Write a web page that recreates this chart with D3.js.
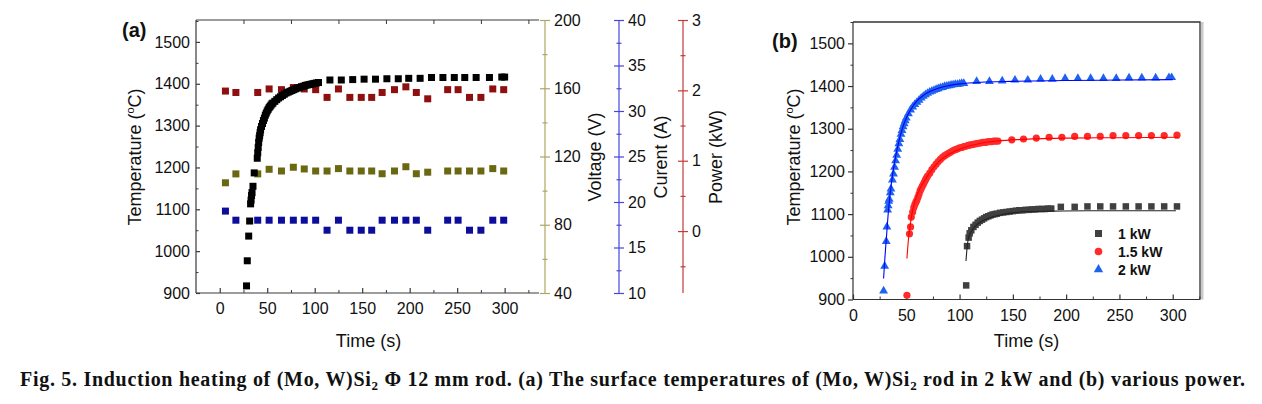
<!DOCTYPE html>
<html><head><meta charset="utf-8">
<script src="https://cdn.jsdelivr.net/npm/d3@7"></script>
<style>
body{margin:0;background:#fff;}
svg{display:block;}
text{font-family:"Liberation Sans",Arial,sans-serif;fill:#111;}
.cap{font-family:"Liberation Serif","Times New Roman",serif;font-weight:bold;}
</style></head>
<body>
<svg id="chart" width="1262" height="404"></svg>
<script>
// ---------- DATA: panel (a) ----------
const tempA = [[28.2,917],[29,977],[30.5,1036],[31.5,1072],[32.5,1113],[33,1122],[33.5,1133],[34,1140],[35,1155],[36.3,1187],
 [39.5,1222],[40,1235],[40.5,1248],[41,1260],[41.5,1270],[42,1276],[42.5,1283],[43,1290],[44,1298],[45,1305],[46,1312],[47,1318],
 [48,1325],[49,1330],[50,1335],[51,1339],[52,1343],[53,1346],[54,1349],[55,1352],[56,1354],[58,1358],[60,1362],[62,1366],[64,1369],
 [66,1372],[68,1375],[70,1378],[72,1380],[74,1382],[76,1384],[78,1386],[80,1388],[82,1390],[84,1391],[86,1393],[88,1394],[90,1396],
 [92,1397],[94,1398],[96,1399],[98,1400],[100,1401],[102,1402],[104,1403],
 [116,1409],[128,1409],[140,1410],[152,1411],[164,1411],[176,1412],[188,1412],[199,1413],[211,1413],[223,1415],[235,1415],
 [247,1415],[258,1415],[270,1415],[284,1415],[297,1416],[300,1416]];
const sampleTimesA = [6,17,40,52,65,77.5,89,101,113,125,137,149,160,171,184,196,207,219,240,251,263,275,287.5,299];
const powerA   = [1.99,1.97,1.97,2.02,2.01,2.04,2.02,2.01,1.90,2.02,1.90,1.90,1.90,1.97,2.01,2.05,1.97,1.88,2.01,2.01,1.90,1.90,2.02,2.01];
const voltageA = [104.6,109.8,109.8,112.5,111.5,113.7,112.7,111.5,111.5,112.9,111.5,111.5,111.5,109.9,111.5,114,109.9,110.8,111.5,111.5,111.5,111.5,112.9,111.5];
const currentA = [19,18,18,18,18,18,18,18,16.9,18,16.9,16.9,16.9,18,18,18,18,16.9,18,18,16.9,16.9,18,18];
const xTicksA = [0,50,100,150,200,250,300];
const tempTicks = [900,1000,1100,1200,1300,1400,1500];
const voltTicks = [40,80,120,160,200];
const currTicks = [10,15,20,25,30,35,40];
const powTicks = [0,1,2,3];

// ---------- DATA: panel (b) ----------
const pts1kW = [[106.2,933],[107,1025],[108.5,1045],[109.5,1055],[111,1062],[113,1070],[115,1075],[117,1080],[119,1084],[121,1087],
 [123,1090],[125,1093],[127,1095],[129,1097],[131,1099],[133,1100],[135,1101],[138,1103],[141,1104],[144,1105],[147,1106],[150,1107],
 [153,1108],[156,1109],[159,1109],[162,1110],[165,1110],[168,1111],[171,1111],[174,1112],[177,1112],[180,1112],[183,1113],[186,1113],
 [195,1117],[208,1117],[220,1118],[232,1118],[244,1118],[256,1118],[268,1118],[280,1118],[292,1118],[304,1118]];
const fit1kW = [[106,990],[107,1020],[108,1040],[110,1055],[113,1067],[117,1077],[122,1085],[130,1093],[140,1099],[150,1103],[165,1106],[185,1107],[220,1108],[303,1108]];
const pts15kW = [[50.6,910],[53,1054],[54,1070],[54.7,1093],[56,1105],[57,1115],[58,1122],[59,1128],[60,1133],[61,1140],[62,1147],[63,1155],
 [64,1160],[65,1165],[66,1170],[67,1175],[68,1180],[69,1185],[70,1189],[72,1196],[74,1204],[76,1211],[78,1217],[80,1223],[82,1228],
 [84,1233],[86,1237],[88,1240],[90,1243],[92,1246],[94,1249],[96,1251],[98,1253],[100,1255],[102,1256],[104,1258],[106,1259],[108,1261],
 [110,1262],[112,1263],[114,1264],[116,1265],[118,1266],[120,1267],[122,1268],[124,1268],[126,1269],[128,1270],[130,1270],[132,1271],
 [134,1271],[136,1271],
 [149,1274],[160,1276],[172,1278],[184,1280],[196,1280],[208,1282],[220,1282],[232,1282],[244,1284],[256,1284],[268,1284],[280,1284],[292,1284],[304,1285]];
const fit15kW = [[50.6,996],[52,1040],[54,1080],[56,1110],[58,1130],[61,1150],[65,1170],[70,1190],[75,1207],[80,1222],[90,1240],[100,1252],[110,1260],[120,1266],[135,1271],[160,1275],[200,1278],[250,1279],[305,1280]];
const pts2kW = [[28.7,920],[29.7,978],[31.2,1036],[31.8,1070],[32.5,1110],[33,1120],[33.5,1130],[34,1135],[35,1150],[35.6,1159],[37,1180],
 [38,1194],[39,1210],[40,1225],[41,1238],[42,1252],[43,1265],[44,1275],[45,1287],[46,1296],[47,1305],[48,1312],[49,1319],[50,1325],
 [52,1335],[54,1344],[56,1351],[58,1357],[60,1362],[62,1367],[64,1372],[66,1376],[68,1380],[70,1383],[72,1386],[74,1388],[76,1390],
 [78,1392],[80,1394],[82,1396],[84,1397],[86,1399],[88,1400],[90,1401],[92,1402],[94,1403],[96,1404],[98,1404],[100,1405],[102,1406],[104,1406],
 [116,1411],[128,1411],[140,1412],[152,1414],[164,1414],[176,1416],[187,1416],[199,1418],[211,1418],[223,1418],[235,1418],[247,1418],
 [259,1419],[271,1419],[284,1419],[296.5,1420],[299,1420]];
const fit2kW = [[28.7,949],[30,1000],[31.5,1050],[33,1100],[35,1150],[37,1190],[40,1235],[43,1270],[46,1298],[50,1325],[55,1348],[60,1365],[66,1378],[72,1387],[80,1395],[90,1401],[100,1405],[120,1409],[150,1411],[200,1413],[250,1414],[300,1415]];
const xTicksB = [0,50,100,150,200,250,300];
const legendLabels = ["1 kW","1.5 kW","2 kW"];

// ---------- DRAW ----------
const svg = d3.select("#chart");
const FS = 16;
const fmt = d3.format("~g");

// ===== Panel (a) =====
const aL=196, aR=545, aT=20, aB=293;
const xA = d3.scaleLinear([-25,342.5],[aL,aR]);
const yA = d3.scaleLinear([900,1550],[aB,aT+1]);
const yV = d3.scaleLinear([40,200],[aB,aT]);
const yI = d3.scaleLinear([10,40],[aB,aT]);
const yP = d3.scaleLinear([-0.88,3],[aB,aT]);
const frameA = "#3a3a3a";

function styleAxis(g,color,fs){
  g.select(".domain").attr("stroke",color).attr("stroke-width",1.2);
  g.selectAll(".tick line").attr("stroke",color).attr("stroke-width",1.2);
  g.selectAll(".tick text").attr("fill","#111").style("font-size",(fs||FS)+"px").style("font-family",'"Liberation Sans",Arial,sans-serif');
}

// top frame line
svg.append("line").attr("x1",aL).attr("x2",aR-6).attr("y1",aT).attr("y2",aT).attr("stroke",frameA).attr("stroke-width",1.2);
// top ticks (inward)
const topA = svg.append("g").attr("transform",`translate(0,${aT})`)
  .call(d3.axisTop(xA).tickValues([25,75,125,175,225,275,325]).tickSize(-4).tickFormat(""));
topA.select(".domain").remove(); topA.selectAll(".tick line").attr("stroke",frameA);

// bottom axis
const botA = svg.append("g").attr("transform",`translate(0,${aB})`)
  .call(d3.axisBottom(xA).tickValues(xTicksA).tickFormat(fmt).tickSize(-5).tickPadding(10));
botA.select(".domain").attr("d",`M${aL},0H${aR-6}`);
styleAxis(botA,frameA);
const botAm = svg.append("g").attr("transform",`translate(0,${aB})`)
  .call(d3.axisBottom(xA).tickValues([25,75,125,175,225,275,325]).tickSize(-3).tickFormat(""));
botAm.select(".domain").remove(); botAm.selectAll(".tick line").attr("stroke",frameA);

// left axis
const leftA = svg.append("g").attr("transform",`translate(${aL},0)`)
  .call(d3.axisLeft(yA).tickValues(tempTicks).tickFormat(fmt).tickSize(-4).tickPadding(6));
leftA.select(".domain").attr("d",`M0,${aT}V${aB}`);
styleAxis(leftA,frameA);
const leftAm = svg.append("g").attr("transform",`translate(${aL},0)`)
  .call(d3.axisLeft(yA).tickValues([950,1050,1150,1250,1350,1450,1550]).tickSize(-2.5).tickFormat(""));
leftAm.select(".domain").remove(); leftAm.selectAll(".tick line").attr("stroke",frameA);

// right axes (cross ticks)
function crossAxis(x,scale,ticks,minor,color){
  const g = svg.append("g").attr("transform",`translate(${x},0)`)
    .call(d3.axisRight(scale).tickValues(ticks).tickFormat(fmt).tickSize(5).tickPadding(4));
  g.select(".domain").attr("d",`M0,${aT}V${aB}`);
  g.selectAll(".tick line").attr("x1",-5);
  styleAxis(g,color);
  const gm = svg.append("g").attr("transform",`translate(${x},0)`)
    .call(d3.axisRight(scale).tickValues(minor).tickSize(2.5).tickFormat(""));
  gm.select(".domain").remove();
  gm.selectAll(".tick line").attr("x1",-2.5).attr("stroke",color).attr("stroke-width",1.2);
  return g;
}
crossAxis(545,yV,voltTicks,[60,100,140,180],"#b0a664");
crossAxis(619,yI,currTicks,[12.5,17.5,22.5,27.5,32.5,37.5],"#4646dc");
crossAxis(683,yP,powTicks,[-0.5,0.5,1.5,2.5],"#c23a3a");

// axis titles (a)
function rotTitle(x,y,parts){
  const t = svg.append("text").attr("transform",`translate(${x},${y}) rotate(-90)`)
    .attr("text-anchor","middle").style("font-size","18px");
  parts.forEach(p=>{ const s=t.append("tspan").text(p.t); if(p.sup) s.attr("dy",-7).style("font-size","11px"); if(p.down) s.attr("dy",7); });
  return t;
}
rotTitle(141,157,[{t:"Temperature ("},{t:"o",sup:true},{t:"C)",down:true}]);
rotTitle(601,157,[{t:"Voltage (V)"}]);
rotTitle(667,157,[{t:"Curent (A)"}]);
rotTitle(722,157,[{t:"Power (kW)"}]);
svg.append("text").attr("x",(aL+aR)/2-2).attr("y",347).attr("text-anchor","middle").style("font-size","18px").text("Time (s)");
svg.append("text").attr("x",122).attr("y",37).style("font-size","20px").style("font-weight","bold").text("(a)");

// markers (a)
const sq = 7;
function squares(data,xs,ys,color,size){
  svg.append("g").selectAll("rect").data(data).join("rect")
    .attr("x",d=>xs(d[0])-size/2).attr("y",d=>ys(d[1])-size/2)
    .attr("width",size).attr("height",size).attr("fill",color);
}
squares(sampleTimesA.map((t,i)=>[t,voltageA[i]]),xA,yV,"#6b6812",sq);
squares(sampleTimesA.map((t,i)=>[t,currentA[i]]),xA,yI,"#0d0d9c",sq);
squares(sampleTimesA.map((t,i)=>[t,powerA[i]]),xA,yP,"#8e0f0f",sq);
squares(tempA,xA,yA,"#000",sq);

// ===== Panel (b) =====
const bL=853, bR=1200, bT=22, bB=299.5;
const xB = d3.scaleLinear([0,325.6],[bL,bR]);
const yB = d3.scaleLinear([900,1550],[bB,bT]);
const frameB = "#333";

svg.append("rect").attr("x",bR+1).attr("y",bT).attr("width",2.5).attr("height",bB-bT).attr("fill","#c9c9c9");
svg.append("path").attr("d",`M${bL},${bT}H${bR}V${bB}`).attr("fill","none").attr("stroke",frameB).attr("stroke-width",1.3);

const botB = svg.append("g").attr("transform",`translate(0,${bB})`)
  .call(d3.axisBottom(xB).tickValues(xTicksB).tickFormat(fmt).tickSize(-5).tickPadding(10));
botB.select(".domain").attr("d",`M${bL},0H${bR}`);
styleAxis(botB,frameB);
const botBm = svg.append("g").attr("transform",`translate(0,${bB})`)
  .call(d3.axisBottom(xB).tickValues([25,75,125,175,225,275,325]).tickSize(-3).tickFormat(""));
botBm.select(".domain").remove(); botBm.selectAll(".tick line").attr("stroke",frameB);

const leftB = svg.append("g").attr("transform",`translate(${bL},0)`)
  .call(d3.axisLeft(yB).tickValues(tempTicks).tickFormat(fmt).tickSize(5).tickPadding(3));
leftB.select(".domain").attr("d",`M0,${bT}V${bB}`);
styleAxis(leftB,frameB);
const leftBm = svg.append("g").attr("transform",`translate(${bL},0)`)
  .call(d3.axisLeft(yB).tickValues([950,1050,1150,1250,1350,1450,1550]).tickSize(2.5).tickFormat(""));
leftBm.select(".domain").remove(); leftBm.selectAll(".tick line").attr("stroke",frameB);

rotTitle(800,157,[{t:"Temperature ("},{t:"o",sup:true},{t:"C)",down:true}]);
svg.append("text").attr("x",(bL+bR)/2).attr("y",347).attr("text-anchor","middle").style("font-size","18px").text("Time (s)");
svg.append("text").attr("x",772).attr("y",48).style("font-size","20px").style("font-weight","bold").text("(b)");

const lineB = d3.line().x(d=>xB(d[0])).y(d=>yB(d[1])).curve(d3.curveMonotoneX);
// markers (b)
const c1="#404040", c15="#ff2a2a", c2="#1f62ee";
squares(pts1kW,xB,yB,c1,6.5);
svg.append("g").selectAll("circle").data(pts15kW).join("circle")
  .attr("cx",d=>xB(d[0])).attr("cy",d=>yB(d[1])).attr("r",3.6).attr("fill",c15);
const tri = d3.symbol(d3.symbolTriangle,34);
svg.append("g").selectAll("path").data(pts2kW).join("path")
  .attr("d",tri).attr("transform",d=>`translate(${xB(d[0])},${yB(d[1])})`).attr("fill",c2);
// fit lines
svg.append("path").datum(fit1kW).attr("d",lineB).attr("fill","none").attr("stroke","#222").attr("stroke-width",1.1);
svg.append("path").datum(fit15kW).attr("d",lineB).attr("fill","none").attr("stroke","#ff0000").attr("stroke-width",1.1);
svg.append("path").datum(fit2kW).attr("d",lineB).attr("fill","none").attr("stroke","#0000ff").attr("stroke-width",1.1);

// legend
const lg = svg.append("g");
const lgY = [233.5,251.5,269.5];
lg.append("rect").attr("x",1095).attr("y",lgY[0]-3.5).attr("width",7).attr("height",7).attr("fill",c1);
lg.append("circle").attr("cx",1098.5).attr("cy",lgY[1]).attr("r",3.8).attr("fill",c15);
lg.append("path").attr("d",d3.symbol(d3.symbolTriangle,38)).attr("transform",`translate(1098.5,${lgY[2]})`).attr("fill",c2);
legendLabels.forEach((l,i)=>lg.append("text").attr("x",1118).attr("y",lgY[i]+5).style("font-size","14px").style("font-weight","bold").text(l));

// caption
const cap = svg.append("text").attr("class","cap").attr("x",20).attr("y",386).style("font-size","20px")
  .attr("textLength",1225).attr("lengthAdjust","spacing");
cap.append("tspan").text("Fig. 5. Induction heating of (Mo, W)Si");
cap.append("tspan").attr("dy",4).style("font-size","13px").text("2");
cap.append("tspan").attr("dy",-4).text(" Φ 12 mm rod. (a) The surface temperatures of (Mo, W)Si");
cap.append("tspan").attr("dy",4).style("font-size","13px").text("2");
cap.append("tspan").attr("dy",-4).text(" rod in 2 kW and (b) various power.");
</script>
</body></html>
